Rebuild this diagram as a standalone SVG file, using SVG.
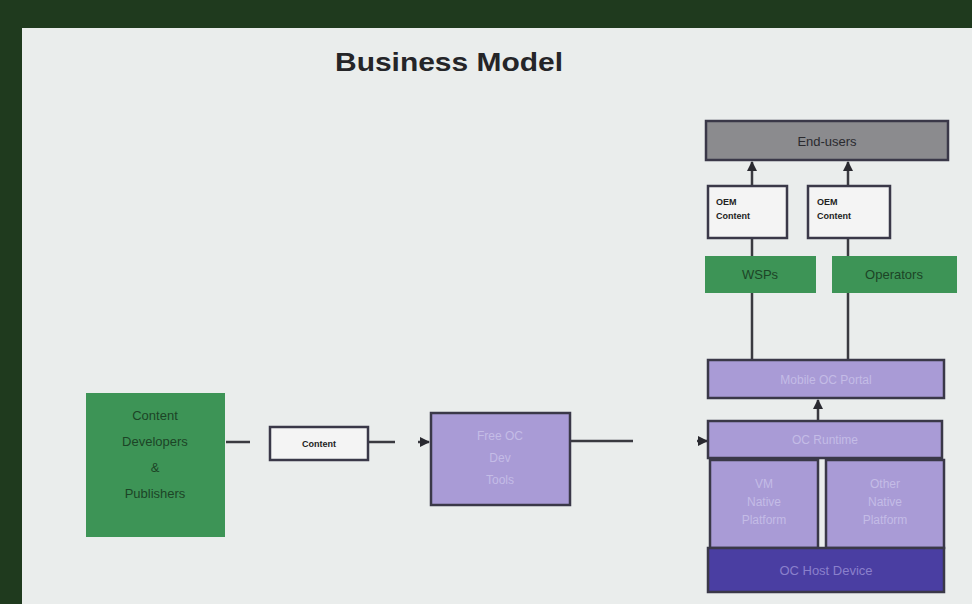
<svg xmlns="http://www.w3.org/2000/svg" width="972" height="604" viewBox="0 0 972 604">
<defs>
<style>
.bx{stroke:#3a3848;stroke-width:2.5}
.pur{fill:#a99bd6}
.grn{fill:#3d9456}
.ln{stroke:#3a3a40;stroke-width:2.5;fill:none}
.t{font-family:"Liberation Sans",Arial,sans-serif;text-anchor:middle}
.pt{fill:#c4bce6;font-size:12px}
.gt{fill:#1c4426;font-size:13px}
.bt{font-family:"Liberation Sans",Arial,sans-serif;fill:#222;font-size:9px;font-weight:bold}
</style>
<marker id="ah" viewBox="0 0 10 10" refX="9" refY="5" markerWidth="4" markerHeight="4" orient="auto"><path d="M0,0 L10,5 L0,10 z" fill="#2a2a30"/></marker>
</defs>
<rect x="0" y="0" width="972" height="604" fill="#1f3a1e"/>
<rect x="22" y="28" width="960" height="590" fill="#eaedec"/>
<text class="t" x="449" y="71" font-size="25" font-weight="bold" fill="#252528" textLength="228" lengthAdjust="spacingAndGlyphs">Business Model</text>

<g id="connectors">
<line class="ln" x1="752" y1="186" x2="752" y2="162" marker-end="url(#ah)"/>
<line class="ln" x1="848" y1="186" x2="848" y2="162" marker-end="url(#ah)"/>
<line class="ln" x1="752" y1="238" x2="752" y2="256"/>
<line class="ln" x1="848" y1="238" x2="848" y2="256"/>
<line class="ln" x1="752" y1="293" x2="752" y2="360"/>
<line class="ln" x1="848" y1="293" x2="848" y2="360"/>
<line class="ln" x1="818" y1="420" x2="818" y2="400" marker-end="url(#ah)"/>
<line class="ln" x1="226" y1="442" x2="250" y2="442"/>
<line class="ln" x1="369" y1="442" x2="395" y2="442"/>
<line class="ln" x1="418" y1="442" x2="429" y2="442" marker-end="url(#ah)"/>
<line class="ln" x1="571" y1="441" x2="633" y2="441"/>
<line class="ln" x1="697" y1="441" x2="707" y2="441" marker-end="url(#ah)"/>
</g>

<g id="end-users"><rect class="bx" x="706" y="121" width="242" height="39" fill="#8b8b8e"/><text class="t" x="827" y="146" font-size="13" fill="#2a2a2e">End-users</text></g>
<g id="oem1"><rect class="bx" x="708" y="186" width="79" height="52" fill="#f4f4f4"/><text class="bt" x="716" y="205">OEM</text><text class="bt" x="716" y="219">Content</text></g>
<g id="oem2"><rect class="bx" x="808" y="186" width="82" height="52" fill="#f4f4f4"/><text class="bt" x="817" y="205">OEM</text><text class="bt" x="817" y="219">Content</text></g>
<g id="wsps"><rect class="grn" x="705" y="256" width="111" height="37"/><text class="t gt" x="760" y="279">WSPs</text></g>
<g id="operators"><rect class="grn" x="832" y="256" width="125" height="37"/><text class="t gt" x="894" y="279">Operators</text></g>
<g id="portal"><rect class="bx pur" x="708" y="360" width="236" height="38"/><text class="t pt" x="826" y="384">Mobile OC Portal</text></g>
<g id="runtime"><rect class="bx pur" x="708" y="421" width="234" height="37"/><text class="t pt" x="825" y="444">OC Runtime</text></g>
<g id="vm"><rect class="bx pur" x="710" y="460" width="108" height="88"/><text class="t pt" x="764" y="488">VM</text><text class="t pt" x="764" y="506">Native</text><text class="t pt" x="764" y="524">Platform</text></g>
<g id="other"><rect class="bx pur" x="826" y="460" width="118" height="88"/><text class="t pt" x="885" y="488">Other</text><text class="t pt" x="885" y="506">Native</text><text class="t pt" x="885" y="524">Platform</text></g>
<g id="host"><rect class="bx" x="708" y="548" width="236" height="44" fill="#4a3ea2"/><text class="t" x="826" y="575" font-size="13" fill="#8a80cc">OC Host Device</text></g>
<g id="devs"><rect x="86" y="393" width="139" height="144" fill="#3d9456"/><text class="t gt" x="155" y="420">Content</text><text class="t gt" x="155" y="446">Developers</text><text class="t gt" x="155" y="472">&amp;</text><text class="t gt" x="155" y="498">Publishers</text></g>
<g id="content"><rect class="bx" x="270" y="427" width="98" height="33" fill="#f4f4f4"/><text class="t bt" x="319" y="447">Content</text></g>
<g id="devtools"><rect class="bx pur" x="431" y="413" width="139" height="92"/><text class="t pt" x="500" y="440">Free OC</text><text class="t pt" x="500" y="462">Dev</text><text class="t pt" x="500" y="484">Tools</text></g>
</svg>
